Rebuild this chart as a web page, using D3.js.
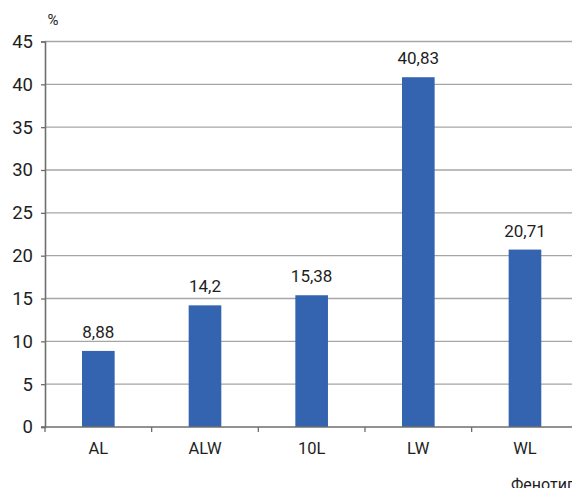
<!DOCTYPE html>
<html>
<head>
<meta charset="utf-8">
<script src="https://cdn.jsdelivr.net/npm/d3@7"></script>
<style>
  html, body { margin: 0; padding: 0; background: #fff; overflow: hidden; }
  svg { display: block; font-family: Roboto, "DejaVu Sans", sans-serif; }
</style>
</head>
<body>
<svg id="chart" width="572" height="488"></svg>
<script>
// Phenotype shares, %
const categories = ["AL", "ALW", "10L", "LW", "WL"];
const values = [8.88, 14.2, 15.38, 40.83, 20.71];
const valueLabels = ["8,88", "14,2", "15,38", "40,83", "20,71"];
const yTicks = [0, 5, 10, 15, 20, 25, 30, 35, 40, 45];

const svg = d3.select("#chart");

const plotLeft = 45, plotBottom = 427, plotTop = 41.5, plotRight = 578.3;

const x = d3.scaleBand().domain(categories).range([plotLeft, plotRight]).padding(0);
const y = d3.scaleLinear().domain([0, 45]).range([plotBottom, plotTop]);

const barW = x.bandwidth() * 0.306;

// horizontal grid lines
svg.append("g")
  .selectAll("line")
  .data(yTicks.filter(t => t > 0))
  .join("line")
  .attr("x1", plotLeft).attr("x2", 572)
  .attr("y1", d => y(d)).attr("y2", d => y(d))
  .attr("stroke", "#a6a6a6").attr("stroke-width", 1.3);

// bars
svg.append("g")
  .selectAll("rect")
  .data(categories)
  .join("rect")
  .attr("x", (d) => x(d) + x.bandwidth() / 2 - barW / 2)
  .attr("width", barW)
  .attr("y", (d, i) => y(values[i]))
  .attr("height", (d, i) => y(0) - y(values[i]))
  .attr("fill", "#3464b0");

// value labels
svg.append("g")
  .selectAll("text")
  .data(categories)
  .join("text")
  .attr("x", d => x(d) + x.bandwidth() / 2)
  .attr("y", (d, i) => y(values[i]) - 13)
  .attr("text-anchor", "middle")
  .attr("font-size", 17)
  .attr("fill", "#1e1e1e")
  .text((d, i) => valueLabels[i]);

// y axis
const yAxis = svg.append("g")
  .attr("transform", `translate(${plotLeft},0)`)
  .call(d3.axisLeft(y).tickValues(yTicks).tickSize(4).tickPadding(8));
yAxis.select(".domain").attr("stroke", "#6e6e6e").attr("stroke-width", 1.6);
yAxis.selectAll(".tick line").attr("stroke", "#6e6e6e").attr("stroke-width", 1.3);
yAxis.selectAll(".tick text").attr("font-size", 18.5).attr("fill", "#1e1e1e")
  .attr("font-family", "Roboto, sans-serif");

// x axis: ticks at band boundaries
const xg = svg.append("g").attr("transform", `translate(0,${plotBottom})`);
xg.append("line")
  .attr("x1", plotLeft - 4).attr("x2", 572)
  .attr("stroke", "#6e6e6e").attr("stroke-width", 1.6);
xg.selectAll("line.bt")
  .data(categories)
  .join("line")
  .attr("class", "bt")
  .attr("x1", d => x(d)).attr("x2", d => x(d))
  .attr("y1", 0).attr("y2", 5)
  .attr("stroke", "#6e6e6e").attr("stroke-width", 1.3);
xg.selectAll("text")
  .data(categories)
  .join("text")
  .attr("x", d => x(d) + x.bandwidth() / 2)
  .attr("y", 27)
  .attr("text-anchor", "middle")
  .attr("font-size", 16.5)
  .attr("fill", "#1e1e1e")
  .text(d => d);

// axis titles
svg.append("text")
  .attr("x", 53).attr("y", 25)
  .attr("text-anchor", "middle")
  .attr("font-size", 15)
  .attr("fill", "#1e1e1e")
  .text("%");

svg.append("text")
  .attr("x", 511).attr("y", 490)
  .attr("font-size", 16)
  .attr("fill", "#1e1e1e")
  .text("Фенотип");
</script>
</body>
</html>
